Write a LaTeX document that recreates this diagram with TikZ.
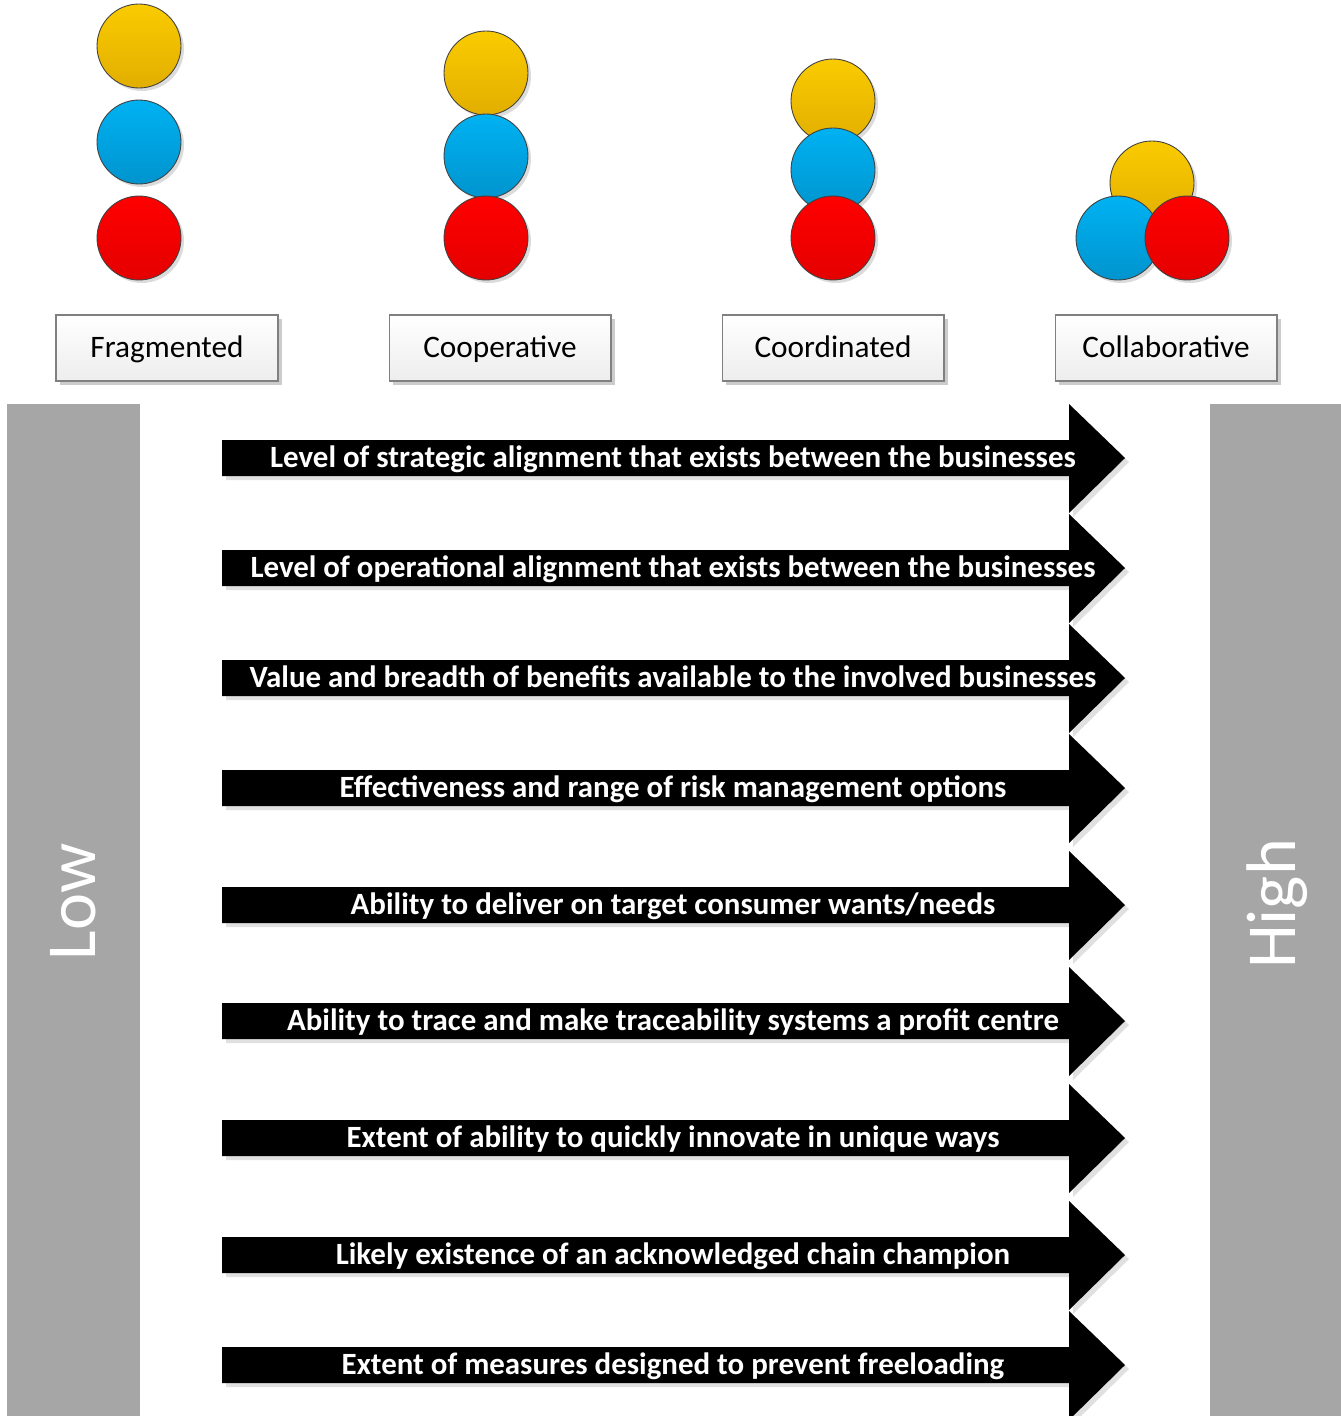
\documentclass[tikz,border=0pt]{standalone}
\usepackage{fontspec}
\setmainfont{Carlito}
\usetikzlibrary{shadows}
\definecolor{barGray}{HTML}{A6A6A6}
\definecolor{goldTop}{HTML}{FACB00}
\definecolor{goldBot}{HTML}{E2AE00}
\definecolor{blueTop}{HTML}{00B2F2}
\definecolor{blueBot}{HTML}{0094CE}
\definecolor{redTop}{HTML}{FF0000}
\definecolor{redBot}{HTML}{E40000}
\tikzstyle{ball} = [circle, draw=black!75, line width=0.5pt, minimum size=1.68cm, inner sep=0pt,
  drop shadow={shadow xshift=0.06cm, shadow yshift=-0.06cm, fill=black!35, opacity=0.4}]
\tikzstyle{goldball} = [ball, top color=goldTop, bottom color=goldBot]
\tikzstyle{blueball} = [ball, top color=blueTop, bottom color=blueBot]
\tikzstyle{redball} = [ball, top color=redTop, bottom color=redBot]
\tikzstyle{stage} = [rectangle, draw=black!50, line width=0.6pt, top color=white, bottom color=black!7,
  minimum width=4.44cm, minimum height=1.32cm, font=\fontsize{17.8}{20}\selectfont,
  text height=11pt, text depth=0pt,
  drop shadow={shadow xshift=0.08cm, shadow yshift=-0.08cm, fill=black!20, opacity=1}]
\tikzstyle{trendtext} = [text=white, font=\fontsize{17.6}{20}\selectfont\bfseries, inner sep=0pt,
  text height=11pt, text depth=0pt]
\tikzstyle{levellabel} = [text=white, font=\fontsize{40}{44}\selectfont, rotate=90, inner sep=0pt]
\newcommand{\trendarrow}[3]{%
  \fill[black!12] (226,#2-14) -- (1073,#2-14) -- (1073,#2-50) -- (1129,#2+4) -- (1073,#2+59) -- (1073,#2+22) -- (226,#2+22) -- cycle;
  \fill[black] (222,#2-18) -- (1069,#2-18) -- (1069,#2-54) -- (1125,#2) -- (1069,#2+55) -- (1069,#2+18) -- (222,#2+18) -- cycle;
  \node[trendtext] (#1) at (673,#2) {#3};
}

\begin{document}
\begin{tikzpicture}[x=0.02cm, y=-0.02cm]
\useasboundingbox (0,0) rectangle (1341,1416);
% low / high bars
\fill[barGray] (7,404) rectangle (140,1416);
\fill[barGray] (1210,404) rectangle (1341,1416);
\node[levellabel] (low) at (73,902) {Low};
\node[levellabel] (high) at (1277,904) {High};
% balls
\node[goldball] (frag-y) at (139,46) {};
\node[blueball] (frag-b) at (139,142) {};
\node[redball]  (frag-r) at (139,238) {};
\node[goldball] (coop-y) at (486,73) {};
\node[blueball] (coop-b) at (486,156) {};
\node[redball]  (coop-r) at (486,238) {};
\node[goldball] (coor-y) at (833,101) {};
\node[blueball] (coor-b) at (833,170) {};
\node[redball]  (coor-r) at (833,238) {};
\node[goldball] (coll-y) at (1152,183) {};
\node[blueball] (coll-b) at (1118,238) {};
\node[redball]  (coll-r) at (1187,238) {};
% stages
\node[stage] (frag) at (167,348) {Fragmented};
\node[stage] (coop) at (500,348) {Cooperative};
\node[stage] (coor) at (833,348) {Coordinated};
\node[stage] (coll) at (1166,348) {Collaborative};
% arrows
\trendarrow{strategic}{458}{Level of strategic alignment that exists between the businesses}
\trendarrow{operational}{568}{Level of operational alignment that exists between the businesses}
\trendarrow{benefits}{678}{Value and breadth of benefits available to the involved businesses}
\trendarrow{risk}{788}{Effectiveness and range of risk management options}
\trendarrow{consumer}{905}{Ability to deliver on target consumer wants/needs}
\trendarrow{trace}{1021}{Ability to trace and make traceability systems a profit centre}
\trendarrow{innovate}{1138}{Extent of ability to quickly innovate in unique ways}
\trendarrow{champion}{1255}{Likely existence of an acknowledged chain champion}
\trendarrow{freeload}{1365}{Extent of measures designed to prevent freeloading}
\end{tikzpicture}
\end{document}
